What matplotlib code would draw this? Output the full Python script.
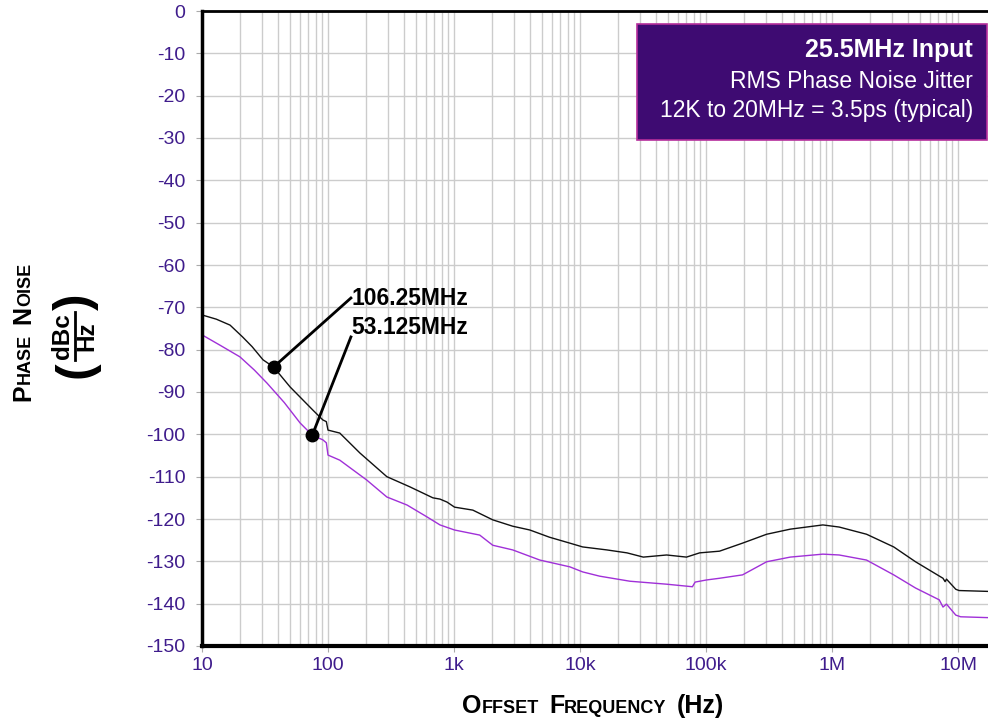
import numpy as np
import matplotlib
matplotlib.use('Agg')
import matplotlib.pyplot as plt
from matplotlib.ticker import LogLocator, NullFormatter
from matplotlib.transforms import IdentityTransform
from matplotlib.patches import Rectangle
from matplotlib.lines import Line2D

plt.rcParams['font.family'] = ['Liberation Sans', 'DejaVu Sans']

# ---- data ----
f_106 = [10, 13, 16.7, 21, 25, 30.5, 37, 50, 76, 91, 97, 100, 124, 179, 293,
         446, 680, 774, 880, 1010, 1410, 2030, 2920, 4000, 5720, 8300, 10500,
         16300, 23600, 31800, 48700, 70000, 89000, 128000, 195000, 303000,
         466000, 846000, 1140000, 1880000, 3090000, 4600000, 7600000, 7900000,
         8100000, 9600000, 10200000, 17300000]
pn_106 = [-71.8, -72.8, -74.2, -77.0, -79.3, -82.4, -84.1, -88.8, -94.3, -96.6,
          -97.0, -99.0, -99.7, -104.4, -110.0, -112.4, -115.0, -115.3, -116.0,
          -117.2, -117.9, -120.2, -121.7, -122.6, -124.3, -125.7, -126.6,
          -127.3, -128.0, -129.0, -128.5, -129.0, -128.0, -127.6, -125.7,
          -123.6, -122.4, -121.4, -121.9, -123.6, -126.6, -130.1, -134.0,
          -134.8, -134.2, -136.6, -136.9, -137.1]

f_53 = [10, 14, 20, 26, 32.8, 45, 60, 75, 91, 97, 100, 124, 203, 293, 424, 610,
        774, 1010, 1600, 2030, 2920, 4800, 8300, 10500, 14300, 24900, 48700,
        78000, 82000, 101000, 128000, 195000, 303000, 466000, 846000, 1140000,
        1880000, 3090000, 4600000, 7100000, 7600000, 8100000, 9600000,
        10500000, 17300000]
pn_53 = [-76.5, -79.0, -81.7, -84.8, -87.9, -92.5, -97.3, -100.2, -101.3,
         -102.0, -104.9, -106.1, -110.8, -114.8, -116.7, -119.5, -121.4, -122.6,
         -123.8, -126.2, -127.3, -129.7, -131.3, -132.5, -133.5, -134.7, -135.4,
         -136.0, -134.9, -134.4, -134.0, -133.2, -130.1, -129.0, -128.3, -128.5,
         -129.7, -133.2, -136.3, -139.1, -140.8, -140.1, -142.7, -143.1, -143.3]

x_ticks = [10, 100, 1e3, 1e4, 1e5, 1e6, 1e7]
x_labels = ['10', '100', '1k', '10k', '100k', '1M', '10M']
y_ticks = list(range(0, -151, -10))
y_labels = [str(v) for v in y_ticks]

# annotation: (dot freq, dot dB, line end freq, line end dB, label)
notes = [(37, -84.1, 152, -67.8, '106.25MHz'),
         (75, -100.2, 152, -77.0, '53.125MHz')]
text_db = [-68.0, -74.8]

box_lines = ['25.5MHz Input', 'RMS Phase Noise Jitter',
             '12K to 20MHz = 3.5ps (typical)']

purple = '#3F1C8C'
line_purple = '#A030D8'

fig = plt.figure(figsize=(9.88, 7.21), dpi=100)
ax = fig.add_axes([202 / 988, 75 / 721, 1 - 202 / 988, (646 - 11) / 721])

ax.plot(f_106, pn_106, color='#111111', lw=1.0, zorder=3)
ax.plot(f_53, pn_53, color=line_purple, lw=1.0, zorder=3)

ax.set_xscale('log')
ax.set_xlim(10, 1.73e7)
ax.set_ylim(-150, 0)
ax.set_xticks(x_ticks)
ax.set_xticklabels(x_labels)
ax.xaxis.set_minor_locator(LogLocator(base=10, subs=np.arange(2, 10)))
ax.xaxis.set_minor_formatter(NullFormatter())
ax.set_yticks(y_ticks)
ax.set_yticklabels(y_labels)
ax.grid(which='both', color='#cccccc', lw=1.0, zorder=0)
ax.tick_params(which='major', length=4, color='#aaaaaa', labelcolor=purple,
               labelsize=14)
ax.tick_params(axis='y', pad=8)
ax.tick_params(axis='x', pad=4)
ax.tick_params(which='minor', length=0)

ax.spines['right'].set_visible(False)
ax.spines['left'].set_linewidth(2.5)
ax.spines['bottom'].set_linewidth(3)
ax.spines['top'].set_linewidth(2)
for s in ax.spines.values():
    s.set_zorder(5)

# annotations
for (fd, dd, ft, dt, lab), tdb in zip(notes, text_db):
    ax.plot([fd, ft], [dd, dt], color='black', lw=2, zorder=4)
    ax.plot(fd, dd, 'o', color='black', ms=9, zorder=4)
    ax.text(ft * 1.01, tdb, lab, fontsize=16.5, fontweight='bold',
            va='center', ha='left', zorder=4)

# info box
fig.patches.append(Rectangle((637, 581), 350, 116, transform=IdentityTransform(),
                             facecolor='#3E0B72', edgecolor='#B52E9C', lw=1.2,
                             zorder=10))
fig.text(973, 664, box_lines[0], transform=IdentityTransform(), color='white',
         fontsize=18, fontweight='bold', ha='right', va='baseline', zorder=11)
fig.text(973, 633, box_lines[1], transform=IdentityTransform(), color='white',
         fontsize=16.5, ha='right', va='baseline', zorder=11)
fig.text(973, 604, box_lines[2], transform=IdentityTransform(), color='white',
         fontsize=16.5, ha='right', va='baseline', zorder=11)


def small_caps(parts, cx, cy, vertical=False, gap=10):
    r = fig.canvas.get_renderer()
    items = []
    for s, size in parts:
        if s is None:
            items.append((None, gap))
            continue
        t = fig.text(0, 0, s, transform=IdentityTransform(), fontsize=size,
                     fontweight='bold', ha='left', va='baseline',
                     rotation=90 if vertical else 0, rotation_mode='anchor')
        bb = t.get_window_extent(r)
        items.append((t, bb.height if vertical else bb.width))
    total = sum(w for _, w in items)
    pos = (cy if vertical else cx) - total / 2
    for t, w in items:
        if t is not None:
            t.set_position((cx, pos) if vertical else (pos, cy))
        pos += w


big, small = 18, 13
small_caps([('O', big), ('FFSET', small), (None, 0), ('F', big),
            ('REQUENCY', small), (None, 0), ('(Hz)', big)], 593, 8)
small_caps([('P', big), ('HASE', small), (None, 0), ('N', big),
            ('OISE', small)], 30, 389, vertical=True)

# (dBc/Hz) unit
fig.text(63, 385, 'dBc', transform=IdentityTransform(), fontsize=17.5,
         fontweight='bold', rotation=90, ha='center', va='center')
fig.text(87, 385, 'Hz', transform=IdentityTransform(), fontsize=17.5,
         fontweight='bold', rotation=90, ha='center', va='center')
fig.lines.append(Line2D([75, 75], [361, 409], transform=IdentityTransform(),
                        color='black', lw=2))
fig.text(76, 351, '(', transform=IdentityTransform(), fontsize=36,
         fontweight='bold', rotation=90, ha='center', va='center')
fig.text(76, 419, ')', transform=IdentityTransform(), fontsize=36,
         fontweight='bold', rotation=90, ha='center', va='center')

fig.savefig('out.png', dpi=100)
